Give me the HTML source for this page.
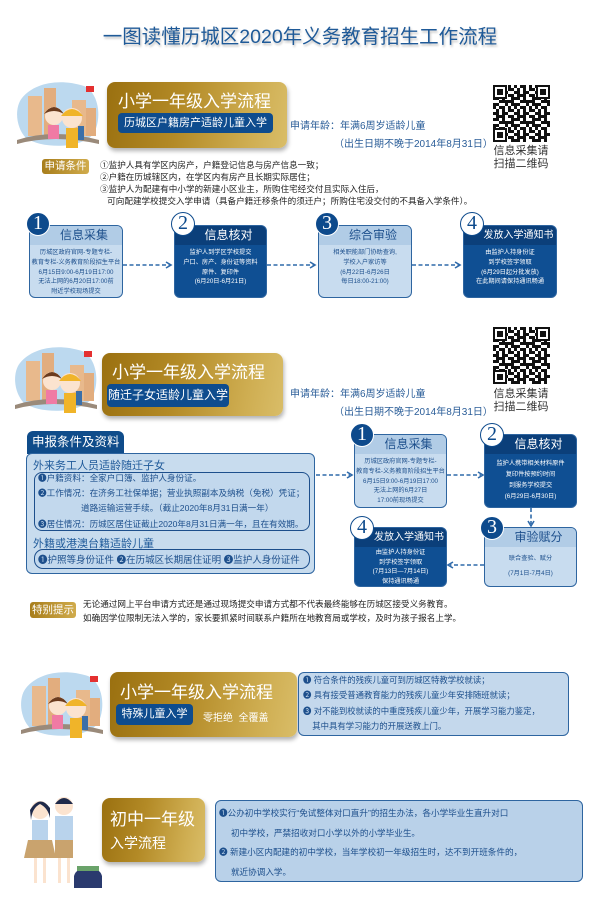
<!DOCTYPE html>
<html><head><meta charset="utf-8">
<style>
*{margin:0;padding:0;box-sizing:border-box}
body{width:600px;height:905px;background:#fff;position:relative;overflow:hidden;font-family:"Liberation Sans","Noto Sans CJK SC",sans-serif;color:#1d4f8c}
.a{position:absolute;white-space:nowrap}
.gold{position:absolute;border-radius:8px;background:linear-gradient(100deg,#9a7010 0%,#b38a26 40%,#cfae52 80%,#d9bd68 100%);box-shadow:1px 3px 4px rgba(0,0,0,.3)}
.gt{position:absolute;color:#fff;font-size:17px;white-space:nowrap}
.sub{position:absolute;background:#0e4c8e;border-radius:4px;color:#fff;font-size:11px;text-align:center;white-space:nowrap}
.step{position:absolute;border:1.5px solid #2e65a0;border-radius:6px;overflow:hidden;text-align:center}
.step .h{height:19px;font-size:12px;line-height:19px;padding-left:16px;white-space:nowrap}
.step .h.s{font-size:10px;padding-left:17px}
.step .b{font-size:6.2px;line-height:9.8px;padding-top:3px;white-space:nowrap}
.lt{background:#c8dcef;color:#1d4f8c}.lt .h{background:#b1cce6}
.dk{background:#0f4f93;color:#fff}.dk .h{background:#0b3f7a}
.c{position:absolute;width:24px;height:24px;border-radius:50%;font-family:"Liberation Serif",serif;font-size:20px;line-height:21px;text-align:center}
.cd{background:#0d4a8c;color:#fff;border:1.5px solid #fff}
.cl{background:#fff;color:#0d4a8c;border:1.5px solid #0d4a8c}
.gb{position:absolute;background:linear-gradient(90deg,#a87e1c,#d0ab4c);border-radius:3px;color:#fff;text-align:center;white-space:nowrap}
</style></head><body>

<svg width="0" height="0" style="position:absolute"><defs>
<pattern id="qp" width="21" height="21" patternUnits="userSpaceOnUse">
<rect width="21" height="21" fill="#fff"/>
<g fill="#111">
<rect x="0" y="0" width="3" height="3"/><rect x="6" y="0" width="6" height="3"/><rect x="15" y="0" width="3" height="6"/>
<rect x="3" y="3" width="3" height="3"/><rect x="9" y="3" width="3" height="6"/><rect x="18" y="3" width="3" height="3"/>
<rect x="0" y="6" width="6" height="3"/><rect x="12" y="6" width="3" height="3"/><rect x="3" y="9" width="3" height="6"/>
<rect x="6" y="9" width="6" height="3"/><rect x="15" y="9" width="6" height="3"/><rect x="0" y="12" width="3" height="3"/>
<rect x="9" y="12" width="3" height="6"/><rect x="12" y="15" width="6" height="3"/><rect x="18" y="12" width="3" height="6"/>
<rect x="0" y="18" width="6" height="3"/><rect x="6" y="15" width="3" height="3"/><rect x="12" y="18" width="3" height="3"/><rect x="18" y="18" width="3" height="3"/>
</g></pattern>
<g id="fpg"><rect width="14" height="14" fill="#111"/><rect x="2" y="2" width="10" height="10" fill="#fff"/><rect x="4" y="4" width="6" height="6" fill="#111"/></g>
</defs></svg>

<div class="a" style="left:0;width:600px;top:20px;text-align:center;font-size:19.5px;color:#1f5a98;text-shadow:1px 2px 2px rgba(0,0,0,.25)">一图读懂历城区2020年义务教育招生工作流程</div>

<svg class="a" style="left:14px;top:78px" width="90" height="75" viewBox="0 0 90 75">
<path d="M8 20 C20 5 45 0 70 8 C85 15 88 40 80 55 C70 70 30 72 12 60 C2 50 0 30 8 20Z" fill="#bcd9ef"/>
<rect x="14" y="18" width="14" height="40" fill="#e8b98c"/><rect x="30" y="10" width="12" height="48" fill="#e2ad7e"/><rect x="58" y="22" width="14" height="36" fill="#e8b98c"/><rect x="72" y="30" width="10" height="28" fill="#e2ad7e"/>
<path d="M3 62 Q40 50 85 62 L85 66 Q40 56 3 66Z" fill="#9a8a7a"/>
<circle cx="40" cy="38" r="9" fill="#fbe3cf"/><path d="M30 36 Q40 22 50 36 Q40 30 30 36Z" fill="#6b3b1e"/><rect x="34" y="47" width="11" height="14" fill="#f07aa4"/>
<circle cx="58" cy="40" r="10" fill="#fbe3cf"/><path d="M47 38 Q58 24 69 38Z" fill="#f0b429"/><rect x="52" y="50" width="12" height="20" fill="#f0b429"/><rect x="64" y="48" width="6" height="14" fill="#3b6fa8"/>
<rect x="72" y="8" width="8" height="6" fill="#e43030"/>
</svg>

<!-- Section 1 -->
<div class="gold" style="left:107px;top:82px;width:180px;height:66px"></div>
<div class="gt" style="left:118px;top:87px">小学一年级入学流程</div>
<div class="sub" style="left:118px;top:113px;width:155px;height:20px;line-height:20px">历城区户籍房产适龄儿童入学</div>
<div class="a" style="left:290px;top:117px;font-size:10px;color:#2a5d98">申请年龄：年满6周岁适龄儿童</div>
<div class="a" style="left:334px;top:135px;font-size:10px;color:#2a5d98">（出生日期不晚于2014年8月31日）</div>
<svg class="a" style="left:493px;top:85px" width="57" height="57"><rect width="57" height="57" fill="url(#qp)"/><use href="#fpg"/><use href="#fpg" x="43"/><use href="#fpg" y="43"/></svg>
<div class="a" style="left:491px;top:145px;font-size:11px;color:#333;line-height:13px;text-align:center;width:60px">信息采集请<br>扫描二维码</div>

<div class="gb" style="left:42px;top:159px;width:47px;height:15px;font-size:10.5px;line-height:15px">申请条件</div>
<div class="a" style="left:100px;top:159px;font-size:8.6px;line-height:12px;color:#222">①监护人具有学区内房产，户籍登记信息与房产信息一致；<br>②户籍在历城辖区内，在学区内有房产且长期实际居住；<br>③监护人为配建有中小学的新建小区业主，所购住宅经交付且实际入住后，<br>&nbsp;&nbsp;&nbsp;可向配建学校提交入学申请（具备户籍迁移条件的须迁户；所购住宅没交付的不具备入学条件）。</div>

<div class="step lt" style="left:29px;top:225px;width:94px;height:73px"><div class="h">信息采集</div><div class="b">历城区政府官网-专题专栏-<br>教育专栏-义务教育阶段招生平台<br>6月15日9:00-6月19日17:00<br>无法上网的6月20日17:00前<br>附近学校现场提交</div></div>
<div class="step dk" style="left:174px;top:225px;width:93px;height:73px"><div class="h">信息核对</div><div class="b">监护人到学区学校提交<br>户口、房产、身份证等资料<br>原件、复印件<br>(6月20日-6月21日)</div></div>
<div class="step lt" style="left:318px;top:225px;width:94px;height:73px"><div class="h">综合审验</div><div class="b">相关职能部门协助查询,<br>学校入户家访等<br>(6月22日-6月26日<br>每日18:00-21:00)</div></div>
<div class="step dk" style="left:463px;top:225px;width:94px;height:73px"><div class="h s">发放入学通知书</div><div class="b">由监护人持身份证<br>到学校签字领取<br>(6月29日起分批发放)<br>在此期间请保持通讯畅通</div></div>
<div class="c cd" style="left:26px;top:212px">1</div>
<div class="c cl" style="left:171px;top:212px">2</div>
<div class="c cd" style="left:315px;top:212px">3</div>
<div class="c cl" style="left:460px;top:212px">4</div>

<!-- Section 2 -->
<svg class="a" style="left:12px;top:343px" width="90" height="75" viewBox="0 0 90 75">
<path d="M8 20 C20 5 45 0 70 8 C85 15 88 40 80 55 C70 70 30 72 12 60 C2 50 0 30 8 20Z" fill="#bcd9ef"/>
<rect x="14" y="18" width="14" height="40" fill="#e8b98c"/><rect x="30" y="10" width="12" height="48" fill="#e2ad7e"/><rect x="58" y="22" width="14" height="36" fill="#e8b98c"/><rect x="72" y="30" width="10" height="28" fill="#e2ad7e"/>
<path d="M3 62 Q40 50 85 62 L85 66 Q40 56 3 66Z" fill="#9a8a7a"/>
<circle cx="40" cy="38" r="9" fill="#fbe3cf"/><path d="M30 36 Q40 22 50 36 Q40 30 30 36Z" fill="#6b3b1e"/><rect x="34" y="47" width="11" height="14" fill="#f07aa4"/>
<circle cx="58" cy="40" r="10" fill="#fbe3cf"/><path d="M47 38 Q58 24 69 38Z" fill="#f0b429"/><rect x="52" y="50" width="12" height="20" fill="#f0b429"/><rect x="64" y="48" width="6" height="14" fill="#3b6fa8"/>
<rect x="72" y="8" width="8" height="6" fill="#e43030"/>
</svg>
<div class="gold" style="left:102px;top:353px;width:181px;height:63px"></div>
<div class="gt" style="left:112px;top:358px">小学一年级入学流程</div>
<div class="sub" style="left:107px;top:384px;width:122px;height:23px;line-height:23px;font-size:12px">随迁子女适龄儿童入学</div>
<div class="a" style="left:290px;top:385px;font-size:10px;color:#2a5d98">申请年龄：年满6周岁适龄儿童</div>
<div class="a" style="left:334px;top:403px;font-size:10px;color:#2a5d98">（出生日期不晚于2014年8月31日）</div>
<svg class="a" style="left:493px;top:327px" width="57" height="57"><rect width="57" height="57" fill="url(#qp)"/><use href="#fpg"/><use href="#fpg" x="43"/><use href="#fpg" y="43"/></svg>
<div class="a" style="left:491px;top:388px;font-size:11px;color:#333;line-height:13px;text-align:center;width:60px">信息采集请<br>扫描二维码</div>

<div class="a" style="left:27px;top:431px;width:97px;height:23px;background:#0f4c8a;border-radius:6px 6px 0 0;color:#fff;font-size:12.5px;line-height:23px;padding-left:5px">申报条件及资料</div>
<div class="a" style="left:26px;top:453px;width:289px;height:121px;background:#c8dcee;border:1.5px solid #2e65a0;border-radius:6px"></div>
<div class="a" style="left:33px;top:457px;font-size:11px;color:#1f5a9a">外来务工人员适龄随迁子女</div>
<div class="a" style="left:34px;top:472px;width:276px;height:59px;border:1.5px solid #1d4f8c;border-radius:8px;background:#c2d8ed"></div>
<div class="a" style="left:38px;top:471px;font-size:8.6px;line-height:15.2px;color:#1d4f8c">❶户籍资料：全家户口簿、监护人身份证。<br>❷工作情况：在济务工社保单据；营业执照副本及纳税（免税）凭证；<br>&nbsp;&nbsp;&nbsp;&nbsp;&nbsp;&nbsp;&nbsp;&nbsp;&nbsp;&nbsp;&nbsp;&nbsp;&nbsp;&nbsp;&nbsp;&nbsp;&nbsp;&nbsp;道路运输运营手续。（截止2020年8月31日满一年）<br>❸居住情况：历城区居住证截止2020年8月31日满一年，且在有效期。</div>
<div class="a" style="left:33px;top:535px;font-size:11px;color:#1f5a9a">外籍或港澳台籍适龄儿童</div>
<div class="a" style="left:34px;top:549px;width:276px;height:20px;border:1.5px solid #1d4f8c;border-radius:9px;background:#c2d8ed"></div>
<div class="a" style="left:38px;top:552px;font-size:9.5px;color:#1d4f8c">❶护照等身份证件 ❷在历城区长期居住证明 ❸监护人身份证件</div>

<div class="step lt" style="left:354px;top:434px;width:93px;height:74px"><div class="h">信息采集</div><div class="b">历城区政府官网-专题专栏-<br>教育专栏-义务教育阶段招生平台<br>6月15日9:00-6月19日17:00<br>无法上网的6月27日<br>17:00前现场提交</div></div>
<div class="step dk" style="left:484px;top:434px;width:93px;height:74px"><div class="h">信息核对</div><div class="b" style="line-height:11px;padding-top:4px">监护人携带相关材料原件<br>复印件按预约时间<br>到服务学校提交<br>(6月29日-6月30日)</div></div>
<div class="step lt" style="left:484px;top:527px;width:93px;height:60px"><div class="h">审验赋分</div><div class="b" style="line-height:15px;padding-top:4px">联合查验、赋分<br>(7月1日-7月4日)</div></div>
<div class="step dk" style="left:354px;top:527px;width:93px;height:60px"><div class="h s">发放入学通知书</div><div class="b" style="line-height:9.5px;padding-top:1px">由监护人持身份证<br>到学校签字领取<br>(7月13日—7月14日)<br>保持通讯畅通</div></div>
<div class="c cd" style="left:350px;top:423px">1</div>
<div class="c cl" style="left:480px;top:423px">2</div>
<div class="c cd" style="left:480px;top:516px">3</div>
<div class="c cl" style="left:350px;top:516px">4</div>

<div class="gb" style="left:30px;top:602px;width:46px;height:16px;font-size:10.5px;line-height:16px">特别提示</div>
<div class="a" style="left:83px;top:597px;font-size:8.6px;line-height:14px;color:#222">无论通过网上平台申请方式还是通过现场提交申请方式都不代表最终能够在历城区接受义务教育。<br>如确因学位限制无法入学的，家长要抓紧时间联系户籍所在地教育局或学校，及时为孩子报名上学。</div>

<svg class="a" style="left:0;top:0" width="600" height="905">
<g stroke="#2f6aaa" stroke-width="1.6" fill="none">
<line x1="123" y1="265" x2="170" y2="265" stroke-dasharray="4,2.5"/><polyline points="166,262 171,265 166,268"/>
<line x1="267" y1="265" x2="314" y2="265" stroke-dasharray="4,2.5"/><polyline points="310,262 315,265 310,268"/>
<line x1="412" y1="265" x2="459" y2="265" stroke-dasharray="4,2.5"/><polyline points="455,262 460,265 455,268"/>
<line x1="316" y1="475" x2="350" y2="475" stroke-dasharray="4,2.5"/><polyline points="347,472 352,475 347,478"/>
<line x1="447" y1="475" x2="481" y2="475" stroke-dasharray="4,2.5"/><polyline points="478,472 483,475 478,478"/>
<line x1="531" y1="508" x2="531" y2="524" stroke-dasharray="4,2.5"/><polyline points="528,521 531,526 534,521"/>
<line x1="484" y1="565" x2="450" y2="565" stroke-dasharray="4,2.5"/><polyline points="453,562 448,565 453,568"/>
</g></svg>

<!-- Section 3 -->
<svg class="a" style="left:18px;top:668px" width="90" height="75" viewBox="0 0 90 75">
<path d="M8 20 C20 5 45 0 70 8 C85 15 88 40 80 55 C70 70 30 72 12 60 C2 50 0 30 8 20Z" fill="#bcd9ef"/>
<rect x="14" y="18" width="14" height="40" fill="#e8b98c"/><rect x="30" y="10" width="12" height="48" fill="#e2ad7e"/><rect x="58" y="22" width="14" height="36" fill="#e8b98c"/><rect x="72" y="30" width="10" height="28" fill="#e2ad7e"/>
<path d="M3 62 Q40 50 85 62 L85 66 Q40 56 3 66Z" fill="#9a8a7a"/>
<circle cx="40" cy="38" r="9" fill="#fbe3cf"/><path d="M30 36 Q40 22 50 36 Q40 30 30 36Z" fill="#6b3b1e"/><rect x="34" y="47" width="11" height="14" fill="#f07aa4"/>
<circle cx="58" cy="40" r="10" fill="#fbe3cf"/><path d="M47 38 Q58 24 69 38Z" fill="#f0b429"/><rect x="52" y="50" width="12" height="20" fill="#f0b429"/><rect x="64" y="48" width="6" height="14" fill="#3b6fa8"/>
<rect x="72" y="8" width="8" height="6" fill="#e43030"/>
</svg>
<div class="gold" style="left:110px;top:672px;width:187px;height:65px"></div>
<div class="gt" style="left:120px;top:678px">小学一年级入学流程</div>
<div class="sub" style="left:116px;top:704px;width:77px;height:21px;line-height:21px">特殊儿童入学</div>
<div class="a" style="left:203px;top:709px;font-size:10px;color:#fff">零拒绝&nbsp;&nbsp;全覆盖</div>
<div class="a" style="left:298px;top:672px;width:271px;height:64px;background:#c4d8ec;border:1.5px solid #2e65a0;border-radius:6px"></div>
<div class="a" style="left:303px;top:673px;font-size:8.4px;line-height:15.3px;color:#1d4f8c">❶ 符合条件的残疾儿童可到历城区特教学校就读；<br>❷ 具有接受普通教育能力的残疾儿童少年安排随班就读；<br>❸ 对不能到校就读的中重度残疾儿童少年，开展学习能力鉴定，<br>&nbsp;&nbsp;&nbsp;&nbsp;其中具有学习能力的开展送教上门。</div>

<!-- Section 4 -->
<svg class="a" style="left:22px;top:788px" width="82" height="105" viewBox="0 0 82 105">
<circle cx="18" cy="22" r="9" fill="#fbe3cf"/><path d="M8 22 Q18 6 28 20 L28 30 Q26 20 18 16 Q10 20 9 32Z" fill="#1f2a4a"/>
<rect x="10" y="32" width="16" height="20" fill="#b9d3ec"/><path d="M6 52 L30 52 L34 70 L2 70Z" fill="#c9a36e"/>
<rect x="12" y="70" width="3" height="25" fill="#fbe3cf"/><rect x="21" y="70" width="3" height="25" fill="#fbe3cf"/>
<circle cx="42" cy="18" r="9" fill="#fbe3cf"/><path d="M33 16 Q42 4 51 16Z" fill="#1f2a4a"/>
<rect x="33" y="28" width="18" height="24" fill="#b9d3ec"/><rect x="33" y="52" width="18" height="18" fill="#c9a36e"/>
<rect x="36" y="70" width="3" height="25" fill="#fbe3cf"/><rect x="45" y="70" width="3" height="25" fill="#fbe3cf"/>
<path d="M52 88 Q54 80 66 80 Q78 80 80 88 L80 100 L52 100Z" fill="#2a3a6e"/><rect x="55" y="78" width="22" height="5" fill="#6aa36a"/>
</svg>
<div class="gold" style="left:102px;top:798px;width:103px;height:64px"></div>
<div class="a" style="left:110px;top:805px;font-size:17px;color:#fff">初中一年级</div>
<div class="a" style="left:110px;top:833px;font-size:14px;color:#fff">入学流程</div>
<div class="a" style="left:215px;top:800px;width:368px;height:82px;background:#b9d1e9;border:1.5px solid #2e65a0;border-radius:6px"></div>
<div class="a" style="left:219px;top:804px;font-size:8.6px;line-height:19.5px;color:#1d4f8c">❶公办初中学校实行“免试整体对口直升”的招生办法，各小学毕业生直升对口<br>&nbsp;&nbsp;&nbsp;&nbsp;&nbsp;初中学校，严禁招收对口小学以外的小学毕业生。<br>❷ 新建小区内配建的初中学校，当年学校初一年级招生时，达不到开班条件的，<br>&nbsp;&nbsp;&nbsp;&nbsp;&nbsp;就近协调入学。</div>

</body></html>
